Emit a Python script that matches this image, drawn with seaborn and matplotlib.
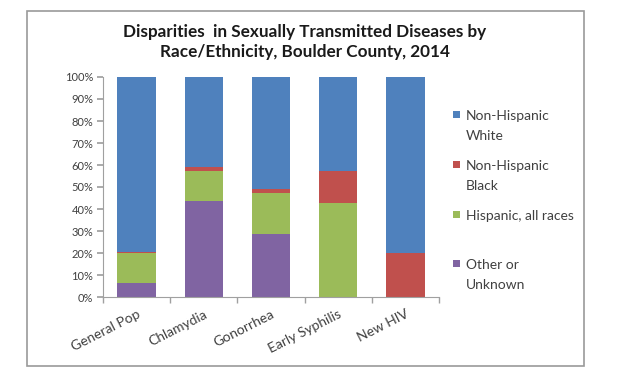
import numpy as np
import pandas as pd
import matplotlib
matplotlib.use("Agg")
import matplotlib.pyplot as plt
import seaborn as sns
from matplotlib.patches import Rectangle

categories = ["General Pop", "Chlamydia", "Gonorrhea", "Early Syphilis", "New HIV"]
other_unknown = [6.5, 43.5, 28.5, 0.0, 0.0]
hispanic = [13.5, 14.0, 19.0, 42.9, 0.0]
nh_black = [0.4, 1.5, 1.5, 14.2, 20.0]
nh_white = [79.6, 41.0, 51.0, 42.9, 80.0]

series_names = ["Non-Hispanic\nWhite", "Non-Hispanic\nBlack", "Hispanic, all races", "Other or\nUnknown"]
colors = ["#4F81BD", "#C0504D", "#9BBB59", "#8064A2"]

sns.set_theme(style="white")
plt.rcParams['font.family'] = ['Lato', 'DejaVu Sans']

W, H = 617, 386

# cumulative tops, drawn from tallest to shortest so each layer shows
stack = np.array([other_unknown, hispanic, nh_black, nh_white])
cum = np.cumsum(stack, axis=0)
tops = [cum[3], cum[2], cum[1], cum[0]]

fig = plt.figure(figsize=(6.17, 3.86), dpi=100)
ax = fig.add_axes([103 / W, 1 - 297 / H, (439 - 103) / W, (297 - 77) / H])

for vals, col in zip(tops, colors):
    df = pd.DataFrame({"cat": categories, "val": vals})
    sns.barplot(data=df, x="cat", y="val", color=col, width=0.57,
                saturation=1, ax=ax, errorbar=None, linewidth=0)

ax.set_xlim(-0.5, 4.5)
ax.set_ylim(0, 100)
ax.set_yticks(np.arange(0, 101, 10))
ax.set_yticklabels([f"{v}%" for v in range(0, 101, 10)], fontsize=8, color="#404040")
ax.set_xlabel("")
ax.set_ylabel("")
ax.set_xticks(range(5))
ax.set_xticklabels(categories, rotation=27, ha="right", rotation_mode="anchor",
                   fontsize=10, color="#404040")
ax.set_xticks(np.arange(-0.5, 4.6, 1), minor=True)
ax.tick_params(axis="x", which="major", length=0, pad=8)
ax.tick_params(axis="x", which="minor", length=4, color="#A0A0A0", direction="out", bottom=True)
ax.tick_params(axis="y", length=4, color="#A0A0A0", direction="out", left=True, pad=3)
for s in ["top", "right"]:
    ax.spines[s].set_visible(False)
for s in ["left", "bottom"]:
    ax.spines[s].set_color("#A0A0A0")
    ax.spines[s].set_linewidth(0.8)

fig.text(305 / W, 1 - 42 / H,
         "Disparities  in Sexually Transmitted Diseases by\nRace/Ethnicity, Boulder County, 2014",
         ha="center", va="center", fontsize=12.3, fontweight="bold", color="#1a1a1a",
         linespacing=1.3)

# legend, handle aligned with the first text line like the original
first_line_y = [114, 164, 214, 263]
for name, col, yy in zip(series_names, colors, first_line_y):
    fig.patches.append(Rectangle((453 / W, 1 - (yy + 3.5) / H), 7 / W, 7 / H,
                                 transform=fig.transFigure, facecolor=col, edgecolor="none"))
    fig.text(466 / W, 1 - (yy - 4) / H, name, ha="left", va="top", fontsize=10,
             color="#404040", linespacing=1.8)

fig.patches.append(Rectangle((27 / W, 1 - 366 / H), (584 - 27) / W, (366 - 11) / H,
                             transform=fig.transFigure, fill=False,
                             edgecolor="#9a9a9a", linewidth=1.2))

fig.savefig("out.png", dpi=100)
